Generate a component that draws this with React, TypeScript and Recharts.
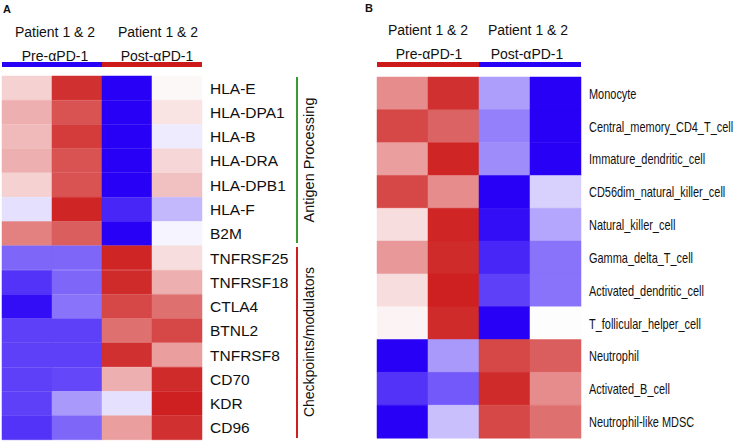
import React from 'react';
import { BarChart, Bar, XAxis, YAxis, Cell } from 'recharts';

// panel A: genes, z-scores per sample column
const genesA = [
  'HLA-E', 'HLA-DPA1', 'HLA-B', 'HLA-DRA', 'HLA-DPB1', 'HLA-F', 'B2M',
  'TNFRSF25', 'TNFRSF18', 'CTLA4', 'BTNL2', 'TNFRSF8', 'CD70', 'KDR', 'CD96',
];
const aPre1 = [0.2, 0.35, 0.3, 0.35, 0.2, -0.12, 0.55, -0.6, -0.8, -0.95, -0.75, -0.75, -0.75, -0.75, -0.8];
const aPre2 = [0.9, 0.75, 0.85, 0.75, 0.75, 0.95, 0.7, -0.6, -0.6, -0.55, -0.75, -0.75, -0.72, -0.4, -0.6];
const aPost1 = [-1, -1, -1, -1, -1, -0.85, -1, 0.95, 0.92, 0.8, 0.62, 0.9, 0.35, -0.12, 0.42];
const aPost2 = [0.03, 0.12, -0.08, 0.18, 0.27, -0.28, -0.04, 0.15, 0.35, 0.62, 0.8, 0.42, 0.92, 0.97, 0.9];

// panel B: immune cell types
const cellsB = [
  'Monocyte', 'Central_memory_CD4_T_cell', 'Immature_dendritic_cell', 'CD56dim_natural_killer_cell',
  'Natural_killer_cell', 'Gamma_delta_T_cell', 'Activated_dendritic_cell', 'T_follicular_helper_cell',
  'Neutrophil', 'Activated_B_cell', 'Neutrophil-like MDSC',
];
const bPre1 = [0.5, 0.8, 0.42, 0.8, 0.15, 0.45, 0.15, 0.05, -1, -0.8, -1];
const bPre2 = [0.9, 0.68, 0.95, 0.5, 0.95, 0.92, 0.97, 0.92, -0.4, -0.65, -0.25];
const bPost1 = [-0.38, -0.5, -0.45, -1, -0.95, -0.85, -0.75, -1, 0.8, 0.92, 0.8];
const bPost2 = [-1, -1, -1, -0.18, -0.35, -0.55, -0.55, 0.01, 0.7, 0.5, 0.62];

const colsA = [aPre1, aPre2, aPost1, aPost2];
const colsB = [bPre1, bPre2, bPost1, bPost2];
const keys = ['c0', 'c1', 'c2', 'c3'];

const BLUE = [40, 0, 245];
const RED = [204, 25, 25];

const heat = (v: number) => {
  const end = v < 0 ? BLUE : RED;
  const t = Math.min(1, Math.abs(v));
  const c = end.map((e) => Math.round(255 + (e - 255) * t));
  return `rgb(${c[0]},${c[1]},${c[2]})`;
};

const toRows = (names: string[]) => names.map((name) => ({ name, c0: 1, c1: 1, c2: 1, c3: 1 }));

const NarrowTick = ({ x, y, payload }: any) => (
  <g transform={`translate(${x},${y})`}>
    <text transform="scale(0.73,1)" dy="0.36em" fontSize={15} fill="#111">
      {payload.value}
    </text>
  </g>
);

const Heat = ({ names, cols, width, height, margin, axisWidth, tick }: any) => (
  <BarChart
    width={width}
    height={height}
    data={toRows(names)}
    layout="vertical"
    margin={margin}
    barCategoryGap={0}
  >
    <XAxis type="number" domain={[0, 4]} hide />
    <YAxis
      type="category"
      dataKey="name"
      orientation="right"
      width={axisWidth}
      axisLine={false}
      tickLine={false}
      interval={0}
      tick={tick}
    />
    {keys.map((k, j) => (
      <Bar key={k} dataKey={k} stackId="h" isAnimationActive={false}>
        {names.map((n: string, i: number) => (
          <Cell key={n} fill={heat(cols[j][i])} stroke={heat(cols[j][i])} strokeWidth={0.5} />
        ))}
      </Bar>
    ))}
  </BarChart>
);

export default function App() {
  return (
    <div
      style={{
        position: 'absolute',
        left: 0,
        top: 0,
        width: 737,
        height: 443,
        background: '#fff',
        fontFamily: '"Liberation Sans", Arial, sans-serif',
      }}
    >
      <div style={{ position: 'absolute', left: 0, top: 0 }}>
        <Heat
          names={genesA}
          cols={colsA}
          width={360}
          height={443}
          margin={{ top: 76, bottom: 3, left: 2, right: 68 }}
          axisWidth={90}
          tick={{ fill: '#111', fontSize: 15.5 }}
        />
      </div>
      <div style={{ position: 'absolute', left: 368, top: 0 }}>
        <Heat
          names={cellsB}
          cols={colsB}
          width={369}
          height={443}
          margin={{ top: 77, bottom: 5, left: 9, right: 6 }}
          axisWidth={150}
          tick={<NarrowTick />}
        />
      </div>
      <svg width={737} height={443} style={{ position: 'absolute', left: 0, top: 0, pointerEvents: 'none' }}>
        <g fill="#111" fontSize={14}>
          <text x={3} y={13} fontWeight="bold" fontSize={11}>A</text>
          <text x={55} y={37} textAnchor="middle">Patient 1 &amp; 2</text>
          <text x={158} y={37} textAnchor="middle">Patient 1 &amp; 2</text>
          <text x={55} y={61} textAnchor="middle">Pre-αPD-1</text>
          <text x={157} y={61} textAnchor="middle">Post-αPD-1</text>
          <text x={365} y={12} fontWeight="bold" fontSize={11}>B</text>
          <text x={428} y={35} textAnchor="middle">Patient 1 &amp; 2</text>
          <text x={528} y={35} textAnchor="middle">Patient 1 &amp; 2</text>
          <text x={429} y={59} textAnchor="middle">Pre-αPD-1</text>
          <text x={527} y={59} textAnchor="middle">Post-αPD-1</text>
          <text transform="translate(314,160) rotate(-90)" textAnchor="middle" fontSize={14.5}>Antigen Processing</text>
          <text transform="translate(314,342) rotate(-90)" textAnchor="middle">Checkpoints/modulators</text>
        </g>
        <rect x={2} y={62} width={100} height={5} fill="rgb(40,0,245)" />
        <rect x={102} y={62} width={100} height={5} fill="rgb(204,25,25)" />
        <rect x={377} y={62} width={102} height={5} fill="rgb(204,25,25)" />
        <rect x={479} y={62} width={102} height={5} fill="rgb(40,0,245)" />
        <line x1={297} y1={77} x2={297} y2={243} stroke="#3a9a35" strokeWidth={2} />
        <line x1={297} y1={247} x2={297} y2={438} stroke="#cc1f1f" strokeWidth={2} />
      </svg>
    </div>
  );
}
